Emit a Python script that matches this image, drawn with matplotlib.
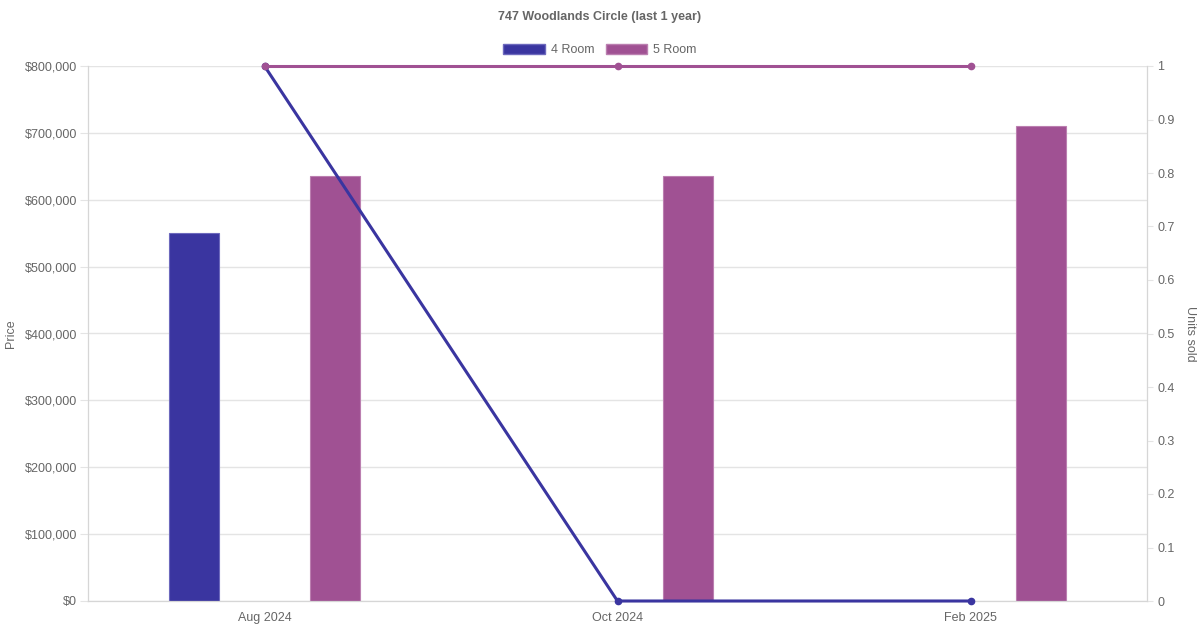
import matplotlib.pyplot as plt
import numpy as np
from matplotlib.ticker import FuncFormatter
from matplotlib.patches import Patch

plt.rcParams['font.family'] = ['Liberation Sans', 'DejaVu Sans']

# data
months = ['Aug 2024', 'Oct 2024', 'Feb 2025']
price_4room = [550000, None, None]
price_5room = [635000, 635000, 710000]
units_4room = [1, 0, 0]
units_5room = [1, 1, 1]

c4 = '#3a35a0'
c5 = '#a05193'
grid_c = '#e4e4e4'
text_c = '#666666'

fig = plt.figure(figsize=(12, 6.3), dpi=100)
ax = fig.add_axes([88 / 1200, 1 - 601 / 630, (1147 - 88) / 1200, (601 - 66) / 630])
ax2 = ax.twinx()

x = np.arange(len(months))
w = 0.1416
off = 0.2

for xi, v in zip(x, price_4room):
    if v is not None:
        ax.bar(xi - off, v, width=w, color=c4, edgecolor='#6d69bd', linewidth=0.8, zorder=2)
for xi, v in zip(x, price_5room):
    if v is not None:
        ax.bar(xi + off, v, width=w, color=c5, edgecolor='#bb7fb0', linewidth=0.8, zorder=2)

ax.set_xlim(-0.5, len(months) - 0.5)
ax.set_ylim(0, 800000)
ax.set_yticks(np.arange(0, 800001, 100000))
ax.yaxis.set_major_formatter(FuncFormatter(lambda v, p: '${:,.0f}'.format(v)))
ax.set_xticks(x)
ax.set_xticklabels(months)
ax.grid(axis='y', color=grid_c, linewidth=1, zorder=0)
ax.set_axisbelow(True)
ax.tick_params(axis='y', length=5.8, color=grid_c, labelcolor=text_c, labelsize=9, pad=2)
ax.tick_params(axis='x', length=0, labelcolor=text_c, labelsize=9, pad=8)
ax.set_ylabel('Price', color=text_c, fontsize=9, va='center')
ax.yaxis.set_label_coords((11 - 88) / 1059, 0.5)

ax2.plot(x, units_4room, color=c4, linewidth=2.2, marker='o', markersize=4.5, zorder=3, clip_on=False)
ax2.plot(x, units_5room, color=c5, linewidth=2.2, marker='o', markersize=4.5, zorder=3, clip_on=False)
ax2.set_ylim(0, 1)
ax2.set_yticks(np.arange(0, 1.01, 0.1))
ax2.yaxis.set_major_formatter(FuncFormatter(lambda v, p: '{:g}'.format(round(v, 1))))
ax2.tick_params(axis='y', length=4.3, color=grid_c, labelcolor=text_c, labelsize=9, pad=3)
ax2.set_ylabel('Units sold', color=text_c, fontsize=9, rotation=270, va='center')
ax2.yaxis.set_label_coords((1190 - 88) / 1059, 0.5)

for a in (ax, ax2):
    for s in a.spines.values():
        s.set_color('#d6d6d6')
    a.spines['top'].set_visible(False)

fig.text(0.5, 1 - 17 / 630, '747 Woodlands Circle (last 1 year)', ha='center', va='center',
         fontsize=9, fontweight='bold', color=text_c)

# legend
handles = [Patch(facecolor=c4, edgecolor='#6d69bd', label='4 Room'),
           Patch(facecolor=c5, edgecolor='#bb7fb0', label='5 Room')]
fig.legend(handles=handles, loc='center', bbox_to_anchor=(0.5, 1 - 50 / 630), ncol=2,
           frameon=False, fontsize=9, labelcolor=text_c, handlelength=3.3, handleheight=0.9,
           columnspacing=0.9, handletextpad=0.5)

fig.savefig('out.png', dpi=100)
